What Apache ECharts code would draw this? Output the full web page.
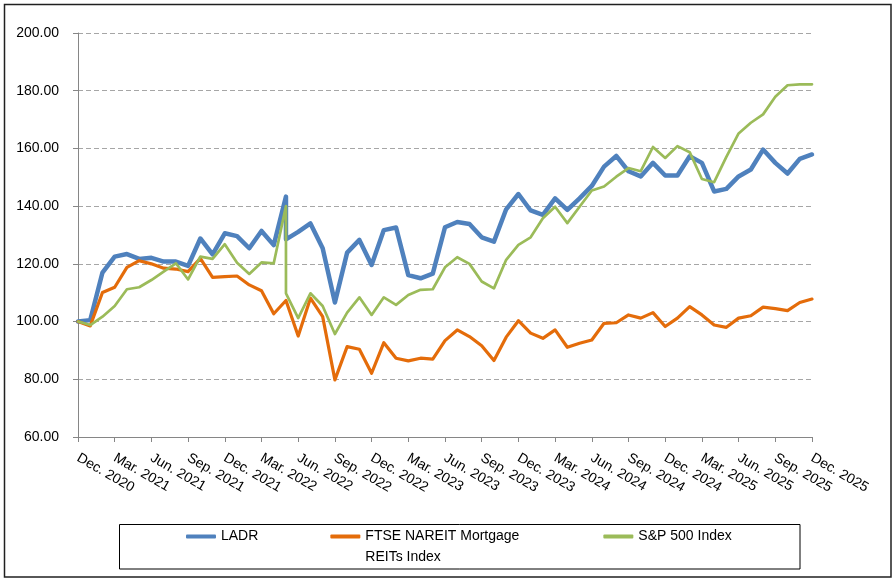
<!DOCTYPE html>
<html>
<head>
<meta charset="utf-8">
<script src="https://cdn.jsdelivr.net/npm/echarts@6/dist/echarts.min.js"></script>
<style>
  html, body { margin: 0; padding: 0; background: #ffffff; }
  #chart { width: 896px; height: 580px; }
</style>
</head>
<body>
<div id="chart"></div>
<script>
// Quarterly tick labels on the month axis (one every 3 months, Dec 2020 = month 0)
const tickLabels = ['Dec. 2020', 'Mar. 2021', 'Jun. 2021', 'Sep. 2021', 'Dec. 2021', 'Mar. 2022', 'Jun. 2022',
  'Sep. 2022', 'Dec. 2022', 'Mar. 2023', 'Jun. 2023', 'Sep. 2023', 'Dec. 2023', 'Mar. 2024', 'Jun. 2024',
  'Sep. 2024', 'Dec. 2024', 'Mar. 2025', 'Jun. 2025', 'Sep. 2025', 'Dec. 2025'];

// Observation month of every point (month 17 = May 2022 holds two observations)
const observationMonths = [0, 1, 2, 3, 4, 5, 6, 7, 8, 9, 10, 11, 12, 13, 14, 15, 16, 17, 17, 18, 19, 20,
  21, 22, 23, 24, 25, 26, 27, 28, 29, 30, 31, 32, 33, 34, 35, 36, 37, 38, 39, 40, 41, 42, 43, 44, 45, 46,
  47, 48, 49, 50, 51, 52, 53, 54, 55, 56, 57, 58, 59, 60];

const seriesNames = ['LADR', 'FTSE NAREIT Mortgage REITs Index', 'S&P 500 Index'];

const ladr = [100, 100.5, 117, 122.5, 123.4, 121.7, 122.1, 120.8, 120.8, 119.3, 128.8, 123.3, 130.6, 129.6,
  125.4, 131.4, 126.5, 143.3, 128.5, 131.1, 134, 125.4, 106.6, 123.9, 128.3, 119.6, 131.7, 132.6, 116.1,
  115, 116.6, 132.7, 134.5, 133.8, 129.2, 127.7, 138.9, 144.2, 138.5, 137, 142.7, 138.7, 142.7, 147, 153.7,
  157.4, 152.1, 150.3, 155, 150.6, 150.6, 157.3, 155, 145.1, 146, 150.3, 152.7, 159.6, 155, 151.3, 156.4, 157.9];

const ftse = [100, 98.5, 110.1, 111.9, 118.8, 121.1, 120, 118.5, 118.2, 117.3, 121.9, 115.3, 115.6, 115.8,
  112.7, 110.7, 102.7, 107.3, 106.8, 95, 108.1, 101.7, 79.8, 91.3, 90.4, 82.1, 92.7, 87.3, 86.4, 87.3, 87,
  93.4, 97.1, 94.8, 91.6, 86.5, 94.6, 100.3, 96, 94.2, 97.1, 91.1, 92.5, 93.6, 99.4, 99.6, 102.3, 101.2,
  103.1, 98.3, 101.2, 105.2, 102.3, 98.8, 98, 101.2, 102, 105, 104.5, 103.8, 106.6, 107.8];

const sp500 = [100, 98.8, 101.7, 105.4, 111.2, 111.9, 114.4, 117.3, 120.2, 114.6, 122.5, 121.7, 126.8, 120.4,
  116.5, 120.5, 120.2, 140, 109.8, 101.2, 109.8, 105.4, 95.7, 103.1, 108.4, 102.3, 108.4, 105.8, 109.2, 111,
  111.2, 118.8, 122.3, 120, 113.9, 111.5, 121.4, 126.6, 129.2, 135.8, 139.8, 134.1, 139.8, 145.4, 146.8,
  150.2, 153.2, 152.1, 160.5, 156.7, 160.8, 158.7, 149.4, 148.3, 157.1, 165.2, 168.9, 171.8, 177.9, 181.9,
  182.2, 182.2];

const colors = ['#4F81BD', '#E46C0A', '#9BBB59'];
const widths = [4.5, 3.2, 2.7];
const values = [ladr, ftse, sp500];
const FONT = "'Liberation Sans', Arial, sans-serif";

const chart = echarts.init(document.getElementById('chart'), null, { renderer: 'canvas' });

const series = seriesNames.map((name, s) => ({
  name: name,
  type: 'line',
  data: observationMonths.map((m, i) => [m, values[s][i]]),
  showSymbol: false,
  symbol: 'none',
  smooth: false,
  lineStyle: { width: widths[s], color: colors[s], join: 'round', cap: 'round' },
  itemStyle: { color: colors[s] },
  emphasis: { disabled: true },
  z: 3 + s
}));

chart.setOption({
  animation: false,
  backgroundColor: '#ffffff',
  textStyle: { fontFamily: FONT },
  grid: { left: 78, right: 84, top: 33, bottom: 143, containLabel: false },
  xAxis: {
    type: 'value',
    min: 0,
    max: 60,
    interval: 3,
    axisLine: { show: true, lineStyle: { color: '#868686', width: 1 } },
    axisTick: { show: true, length: 5, lineStyle: { color: '#868686' } },
    splitLine: { show: false },
    axisLabel: {
      rotate: -30,
      margin: 20,
      fontSize: 14,
      color: '#000000',
      fontFamily: FONT,
      hideOverlap: false,
      showMinLabel: true,
      showMaxLabel: true,
      formatter: function (v) { return tickLabels[Math.round(v / 3)] || ''; }
    }
  },
  yAxis: {
    type: 'value',
    min: 60,
    max: 200,
    interval: 20,
    axisLine: { show: true, lineStyle: { color: '#868686', width: 1 } },
    axisTick: { show: true, length: 5, lineStyle: { color: '#868686' } },
    splitLine: { show: true, showMinLine: false, lineStyle: { color: '#A6A6A6', type: [5, 3], width: 1 } },
    axisLabel: {
      margin: 19,
      fontSize: 14,
      color: '#000000',
      fontFamily: FONT,
      formatter: function (v) { return v.toFixed(2); }
    }
  },
  legend: {
    left: 186,
    top: 505,
    padding: 0,
    itemWidth: 30,
    itemHeight: 4,
    itemGap: 72,
    icon: 'roundRect',
    selectedMode: false,
    textStyle: { fontSize: 14, lineHeight: 21, color: '#000000', fontFamily: FONT },
    formatter: function (n) {
      return n === seriesNames[1] ? ' \nFTSE NAREIT Mortgage\nREITs Index' : n;
    },
    data: [
      { name: seriesNames[0] },
      { name: seriesNames[1], textStyle: { width: 166 } },
      { name: seriesNames[2] }
    ]
  },
  graphic: [
    { type: 'rect', silent: true, z: 0, shape: { x: 4.5, y: 4.5, width: 886.5, height: 572.5 },
      style: { fill: 'none', stroke: '#202020', lineWidth: 1.5 } },
    { type: 'rect', silent: true, z: 0, shape: { x: 119.5, y: 524.5, width: 680.5, height: 44.5 },
      style: { fill: 'none', stroke: '#000000', lineWidth: 1 } }
  ],
  series: series
});
</script>
</body>
</html>
